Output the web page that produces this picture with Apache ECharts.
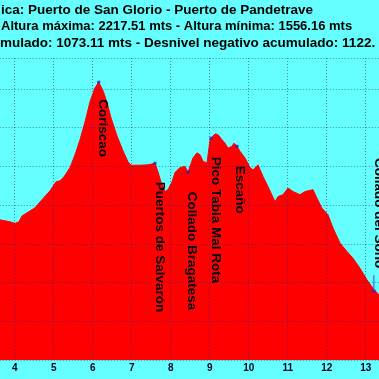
<!DOCTYPE html>
<html><head><meta charset="utf-8">
<script src="https://cdn.jsdelivr.net/npm/echarts@6/dist/echarts.min.js"></script>
<style>html,body{margin:0;padding:0;background:#66FFFF;}#c{width:379px;height:379px;}</style>
</head><body><div id="c"></div>
<script>
// Distance along route (km) and elevation (m)
const distKm = [3.5,3.623,3.879,4.008,4.110,4.187,4.392,4.520,4.700,4.905,5.059,5.162,5.264,5.418,5.546,5.674,5.803,5.931,6.059,6.154,6.264,6.367,6.469,6.623,6.777,6.905,6.982,7.213,7.418,7.597,7.674,7.751,7.854,7.931,8.033,8.110,8.238,8.367,8.444,8.572,8.674,8.751,8.828,8.931,9.008,9.033,9.136,9.213,9.315,9.392,9.469,9.572,9.623,9.700,9.777,9.905,10.033,10.110,10.238,10.367,10.495,10.674,10.751,10.879,11.008,11.136,11.315,11.444,11.649,11.751,11.879,12.033,12.162,12.341,12.521,12.674,12.854,13.033,13.187,13.341,13.5];
const elevM = [1864,1862,1857,1853,1857,1872,1885,1893,1914,1937,1960,1963,1973,1997,2030,2069,2115,2167,2203,2217.51,2196,2165,2126,2079,2040,2012,2003,2003,2004,2008,1986,1960,1935,1940,1960,1984,1997,2000,1985,2022,2035,2030,2013,2009,2069,2073,2084,2082,2069,2060,2047,2052,2060,2052,2039,2022,1997,1991,2004,1974,1948,1909,1922,1927,1944,1935,1927,1935,1940,1918,1892,1875,1841,1802,1780,1763,1737,1707,1685,1668,1650];
// Waypoints
const wpNames = ['Coriscao','Puertos de Salvarón','Collado Bragatesa','Pico Tabla Mal Rota','Escaño','Collado del Soño'];
const wpKm = [6.154,7.597,8.444,9.033,9.700,13.21];
const wpM = [2217.51,2008,1985,2073,2052,1678];
// Title lines (visible part)
const titleLines = [
  'ica: Puerto de San Glorio - Puerto de Pandetrave',
  'Altura máxima: 2217.51 mts - Altura mínima: 1556.16 mts',
  'mulado: 1073.11 mts - Desnivel negativo acumulado: 1122.'
];

const FONT = '"Liberation Sans", Arial, sans-serif';
const chart = echarts.init(document.getElementById('c'), null, {renderer:'canvas'});
const gridLine = {show:true, lineStyle:{color:'rgba(20,40,140,0.55)', type:[1,2], width:1}};
chart.setOption({
  backgroundColor:'#66FFFF',
  animation:false,
  grid:{left:-24.3, width:429, top:58, height:302, containLabel:false, outerBoundsMode:'none'},
  xAxis:{type:'value', min:3, max:14, interval:1, z:5,
    axisLine:{show:false}, axisTick:{show:false},
    axisLabel:{color:'#000022', fontSize:10, fontWeight:'bold', fontFamily:FONT, margin:3},
    splitLine:gridLine},
  yAxis:{type:'value', min:1500, max:2280, interval:100, z:5,
    axisLine:{show:false}, axisTick:{show:false}, axisLabel:{show:false},
    splitLine:gridLine},
  series:[
    {type:'line', data:distKm.map((d,i)=>[d,elevM[i]]), symbol:'none',
     lineStyle:{color:'#FF0000', width:1}, areaStyle:{color:'#FF0000', opacity:1}, z:2},
    {type:'scatter', data:wpKm.map((d,i)=>[d,wpM[i]]), symbol:'rect', symbolSize:3,
     itemStyle:{color:'#2020CC'}, z:6}
  ]
});

const labelOffsets = [[4.5,17],[4.5,18.5],[4,19.5],[4.5,18.5],[3,19.5],[5,-133]];
const graphics = [];
wpNames.forEach((n,i)=>{
  const p = chart.convertToPixel({gridIndex:0},[wpKm[i],wpM[i]]);
  graphics.push({type:'text', x:p[0]+labelOffsets[i][0], y:p[1]+labelOffsets[i][1], rotation:-Math.PI/2, z:10,
    style:{text:n, font:'bold 13.5px '+FONT, fill:'#000', align:'left', verticalAlign:'middle', textAlign:'left', textVerticalAlign:'middle'}});
});
{
  const p = chart.convertToPixel({gridIndex:0},[wpKm[5],wpM[5]]);
  graphics.push({type:'line', z:9, shape:{x1:p[0],y1:p[1]-16,x2:p[0],y2:p[1]}, style:{stroke:'#3050E0', lineWidth:1}});
}
const titleAnchors = [{x:313,y:10.5,a:'right',f:13.5},{x:1,y:26,a:'left',f:13},{x:0,y:43.5,a:'left',f:13.5}];
titleLines.forEach((t,i)=>{
  const ta = titleAnchors[i];
  graphics.push({type:'text', x:ta.x, y:ta.y, z:10,
    style:{text:t, font:'bold '+ta.f+'px '+FONT, fill:'#000', align:ta.a, verticalAlign:'middle', textAlign:ta.a, textVerticalAlign:'middle'}});
});
chart.setOption({graphic:graphics});
</script></body></html>
